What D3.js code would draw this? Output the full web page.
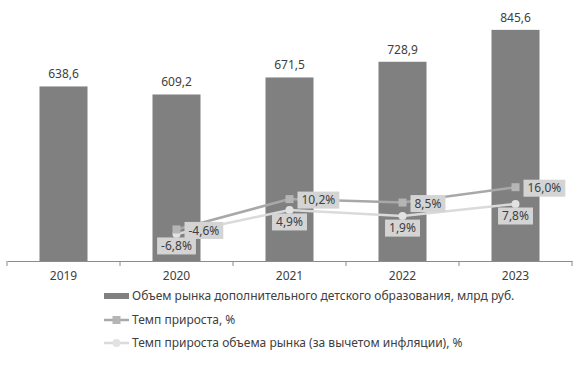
<!DOCTYPE html>
<html>
<head>
<meta charset="utf-8">
<script src="https://cdn.jsdelivr.net/npm/d3@7"></script>
<style>
  body { margin: 0; background: #fff; }
  svg { display: block; font-family: "Noto Sans", sans-serif; }
</style>
</head>
<body>
<svg width="586" height="368"></svg>
<script>
// данные
const years = ["2019", "2020", "2021", "2022", "2023"];
const marketVolume = [638.6, 609.2, 671.5, 728.9, 845.6];          // млрд руб.
const growthYears = ["2020", "2021", "2022", "2023"];
const growthRate = [-4.6, 10.2, 8.5, 16.0];                        // %
const realGrowthRate = [-6.8, 4.9, 1.9, 7.8];                      // %
const legendLabels = [
    "Объем рынка дополнительного детского образования, млрд руб.",
    "Темп прироста, %",
    "Темп прироста объема рынка (за вычетом инфляции), %"
];

const fmt = v => v.toFixed(1).replace(".", ",");
const textColor = "#404040";

let svg = d3.select("svg");

const area = { left: 7, right: 572, top: 15, bottom: 261 };

// шкалы
let scX = d3.scaleBand()
    .domain(years)
    .range([area.left, area.right])
    .paddingInner(0.575)
    .paddingOuter(0.2875);

let scY = d3.scaleLinear()
    .domain([0, 900])
    .range([area.bottom, area.top]);

// вторая ось для процентов (не выводится)
let scY2 = d3.scaleLinear()
    .domain([-20, 100])
    .range([area.bottom, area.top]);

const cx = d => scX(d) + scX.bandwidth() / 2;

// столбцы
svg.selectAll(".bar")
    .data(years)
    .enter()
    .append("rect")
    .attr("x", d => scX(d))
    .attr("y", (d, i) => scY(marketVolume[i]))
    .attr("width", scX.bandwidth())
    .attr("height", (d, i) => scY(0) - scY(marketVolume[i]))
    .style("fill", "#808080");

svg.selectAll(".barLabel")
    .data(years)
    .enter()
    .append("text")
    .attr("x", d => cx(d))
    .attr("y", (d, i) => scY(marketVolume[i]) - 8)
    .attr("text-anchor", "middle")
    .style("font-size", "12px")
    .style("fill", textColor)
    .text((d, i) => fmt(marketVolume[i]));

// ось OX
let axisX = d3.axisBottom(scX).tickSize(0).tickPadding(10);
let gx = svg.append("g")
    .attr("transform", `translate(0, ${area.bottom})`)
    .call(axisX);
gx.select(".domain").attr("stroke", "#8c8c8c");
gx.selectAll("text").style("font-size", "12px").style("fill", textColor)
    .style("font-family", "Noto Sans");

// засечки между категориями
const bounds = years.map(d => scX(d) - scX.step() * scX.paddingInner() / 2);
bounds.push(scX(years[years.length - 1]) + scX.bandwidth() + scX.step() * scX.paddingInner() / 2);
svg.selectAll(".tickMark")
    .data(bounds)
    .enter()
    .append("line")
    .attr("x1", d => d).attr("x2", d => d)
    .attr("y1", area.bottom).attr("y2", area.bottom + 5)
    .attr("stroke", "#8c8c8c");

// линии
function drawLine(values, lineColor, markerColor, marker) {
    const pts = growthYears.map((d, i) => [cx(d), scY2(values[i])]);
    svg.append("path")
        .datum(pts)
        .attr("d", d3.line())
        .attr("fill", "none")
        .attr("stroke", lineColor)
        .attr("stroke-width", 2.5);
    if (marker == "square") {
        svg.selectAll(".sq")
            .data(pts)
            .enter()
            .append("rect")
            .attr("x", d => d[0] - 4)
            .attr("y", d => d[1] - 4)
            .attr("width", 8).attr("height", 8)
            .style("fill", markerColor);
    } else {
        svg.selectAll(".ci")
            .data(pts)
            .enter()
            .append("circle")
            .attr("cx", d => d[0])
            .attr("cy", d => d[1])
            .attr("r", 4)
            .style("fill", markerColor);
    }
    return pts;
}

const ptsReal = drawLine(realGrowthRate, "#dadada", "#e2e2e2", "circle");
const ptsGrowth = drawLine(growthRate, "#a8a8a8", "#b5b5b5", "square");

// подписи с подложкой
function addLabel(x, y, txt, anchor) {
    let g = svg.append("g");
    let t = g.append("text")
        .attr("x", x)
        .attr("y", y)
        .attr("dy", "0.35em")
        .attr("text-anchor", anchor)
        .style("font-size", "12px")
        .style("fill", textColor)
        .text(txt);
    const bb = t.node().getBBox();
    g.insert("rect", "text")
        .attr("x", bb.x - 4)
        .attr("y", y - 8.5)
        .attr("width", bb.width + 8)
        .attr("height", 17)
        .style("fill", "#d4d4d4");
}

ptsGrowth.forEach((p, i) => addLabel(p[0] + 12, p[1] + 1, fmt(growthRate[i]) + "%", "start"));
ptsReal.forEach((p, i) => addLabel(p[0], p[1] + 12, fmt(realGrowthRate[i]) + "%", "middle"));

// легенда
const legendY = [296, 320, 343];
let lg = svg.append("g");
lg.append("rect")
    .attr("x", 104).attr("y", legendY[0] - 3)
    .attr("width", 25).attr("height", 6)
    .style("fill", "#808080");
lg.append("line")
    .attr("x1", 104).attr("x2", 129)
    .attr("y1", legendY[1]).attr("y2", legendY[1])
    .attr("stroke", "#a8a8a8").attr("stroke-width", 2.5);
lg.append("rect")
    .attr("x", 112.5).attr("y", legendY[1] - 4)
    .attr("width", 8).attr("height", 8)
    .style("fill", "#b5b5b5");
lg.append("line")
    .attr("x1", 104).attr("x2", 129)
    .attr("y1", legendY[2]).attr("y2", legendY[2])
    .attr("stroke", "#dadada").attr("stroke-width", 2.5);
lg.append("circle")
    .attr("cx", 116.5).attr("cy", legendY[2])
    .attr("r", 4)
    .style("fill", "#e2e2e2");

lg.selectAll(".legText")
    .data(legendLabels)
    .enter()
    .append("text")
    .attr("x", 132)
    .attr("y", (d, i) => legendY[i])
    .attr("dy", "0.35em")
    .style("font-size", "12px")
    .style("fill", textColor)
    .text(d => d);
</script>
</body>
</html>
